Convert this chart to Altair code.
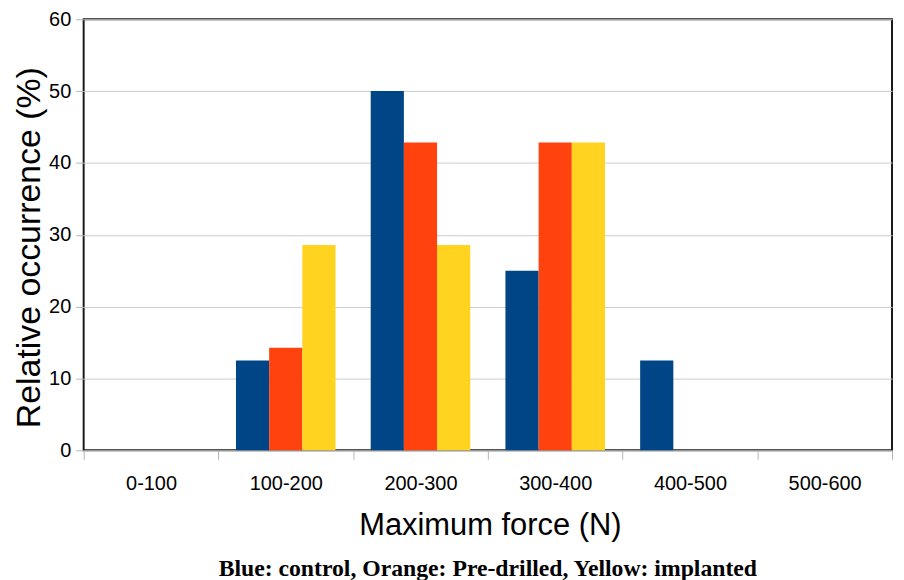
import altair as alt
import pandas as pd

categories = ["0-100", "100-200", "200-300", "300-400", "400-500", "500-600"]
series = ["control", "Pre-drilled", "implanted"]
control = [0, 12.5, 50, 25, 12.5, 0]
predrilled = [0, 14.29, 42.86, 42.86, 0, 0]
implanted = [0, 28.57, 28.57, 42.86, 0, 0]
colors = ["#004586", "#ff420e", "#ffd320"]

rows = []
for i, c in enumerate(categories):
    for s, vals in zip(series, [control, predrilled, implanted]):
        rows.append({"range": c, "group": s, "value": vals[i]})
df = pd.DataFrame(rows)

font = "Liberation Sans"

chart = alt.Chart(df).mark_bar().encode(
    x=alt.X("range:N", sort=categories,
            scale=alt.Scale(paddingInner=0, paddingOuter=0),
            axis=alt.Axis(title="Maximum force (N)", labelAngle=0, tickBand="extent",
                          domain=False, grid=False, ticks=True, tickSize=9,
                          tickColor="#b3b3b3", labelFont=font, labelFontSize=20,
                          labelColor="#000000", labelPadding=30,
                          labelBaseline="alphabetic",
                          titleFont=font, titleFontSize=31, titleFontWeight="normal",
                          titleColor="#000000", titleX=408, titleY=85,
                          titleBaseline="alphabetic", titleAlign="center")),
    xOffset=alt.XOffset("group:N", sort=series,
                        scale=alt.Scale(paddingInner=0, paddingOuter=0.53)),
    y=alt.Y("value:Q", scale=alt.Scale(domain=[0, 60], nice=False),
            axis=alt.Axis(title="Relative occurrence (%)", values=[0, 10, 20, 30, 40, 50, 60],
                          domain=False, grid=True, gridColor="#cccccc", gridWidth=1,
                          tickSize=8, tickColor="#b3b3b3", labelPadding=5,
                          labelFont=font, labelFontSize=20, labelColor="#000000",
                          titleFont=font, titleFontSize=34, titleFontWeight="normal",
                          titleColor="#000000", titleX=-44, titleY=229,
                          titleBaseline="alphabetic", titleAlign="center", titleAngle=270)),
    color=alt.Color("group:N", sort=series,
                    scale=alt.Scale(domain=series, range=colors), legend=None),
).properties(
    width=812,
    height=433,
    autosize=alt.AutoSizeParams(type="none"),
    padding={"left": 76, "top": 10, "right": 4, "bottom": 129},
    title=alt.TitleParams(
        "Blue: control, Orange: Pre-drilled, Yellow: implanted",
        orient="bottom", anchor="middle", frame="group",
        font="Liberation Serif", fontSize=23.8, fontWeight="bold", color="#000000",
        offset=16,
    ),
).configure_view(
    stroke="#1a1a1a", strokeWidth=2
)

chart.save("out.html", embed_options={"renderer": "svg", "actions": False})
